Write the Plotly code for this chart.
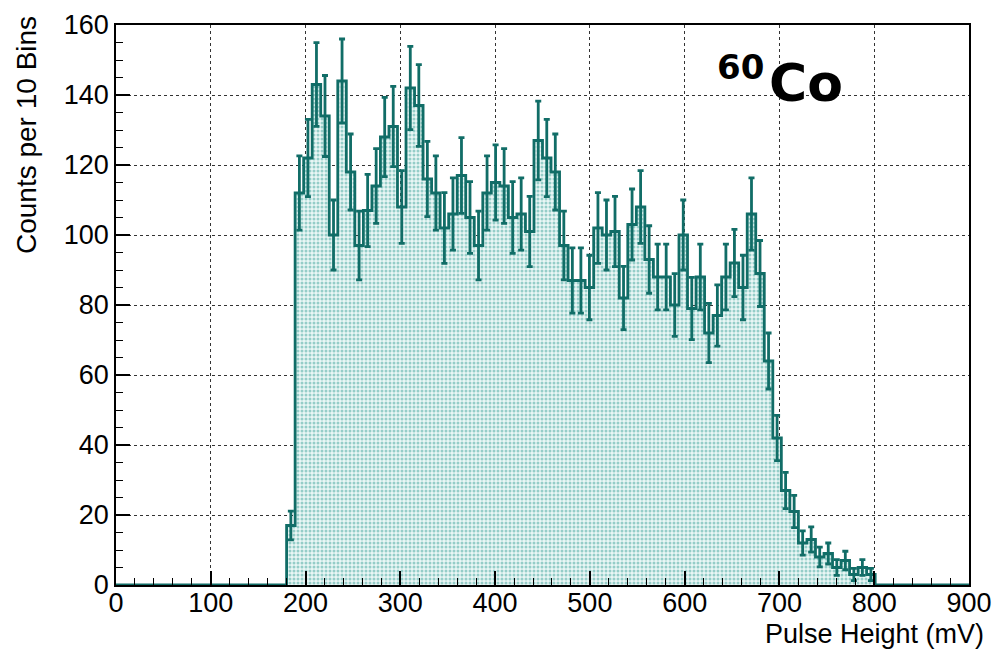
import numpy as np
import plotly.graph_objects as go

# Histogram definition (ROOT-style TH1: 100 bins from 0 to 900 mV)
x_min = 0
x_max = 900
n_bins = 100
first_filled_bin = 20  # bin starting at 180 mV

# Counts per bin, starting at 180 mV (9 mV bins)
counts = [17, 112, 122, 143, 134, 100, 144, 118, 97, 107,
          114, 128, 131, 108, 142, 137, 116, 112, 102, 106,
          117, 105, 97, 112, 115, 114, 105, 106, 101, 127,
          122, 118, 97, 87, 87, 85, 102, 100, 101, 82,
          103, 108, 93, 88, 88, 80, 100, 79, 88, 72,
          77, 88, 92, 85, 106, 89, 64, 42, 27, 21,
          12, 13, 8, 9, 5, 7, 3, 5, 3]

x_ticks = [0, 100, 200, 300, 400, 500, 600, 700, 800, 900]
y_ticks = [0, 20, 40, 60, 80, 100, 120, 140, 160]

x_title = "Pulse Height (mV)"
y_title = "Counts per 10 Bins"
isotope_mass = "60"
isotope_symbol = "Co"

# ---- build histogram arrays
full = [0] * first_filled_bin + counts
full = full + [0] * (n_bins - len(full))
edges = np.linspace(x_min, x_max, n_bins + 1)
centers = 0.5 * (edges[:-1] + edges[1:])
full = np.array(full, dtype=float)

line_col = "#116d67"

fig = go.Figure()

# filled step histogram
fig.add_trace(go.Scatter(
    x=edges, y=np.append(full, full[-1]),
    mode="lines", line=dict(shape="hv", color=line_col, width=2.8),
    fill="tozeroy",
    fillcolor="rgba(255,255,255,0)",
    fillpattern=dict(shape=".", fgcolor="#3fa39c", bgcolor="#eaf6f5",
                     size=4, solidity=0.45),
    hoverinfo="skip", showlegend=False,
))

# error bars (sqrt(N))
mask = full > 0
fig.add_trace(go.Scatter(
    x=centers[mask], y=full[mask], mode="markers",
    marker=dict(size=1, color=line_col),
    error_y=dict(type="data", array=np.sqrt(full[mask]), color=line_col,
                 thickness=2.8, width=3),
    showlegend=False,
))

font_main = "Liberation Sans, Arial, sans-serif"

axis_common = dict(
    ticks="inside", tickwidth=1.5, tickcolor="black",
    showline=True, linecolor="black", linewidth=1.6, mirror=True,
    showgrid=True, gridcolor="#333", griddash="dot", gridwidth=1.2,
    zeroline=False, tickfont=dict(size=27), automargin=False,
)

fig.update_layout(
    width=996, height=650,
    margin=dict(l=116, r=27, t=25, b=65, autoexpand=False),
    paper_bgcolor="white", plot_bgcolor="white",
    font=dict(family=font_main, size=27, color="black"),
    xaxis=dict(
        range=[x_min, x_max], tickvals=x_ticks, ticktext=[str(v) for v in x_ticks],
        ticklen=14, ticklabelstandoff=-7,
        minor=dict(dtick=20, ticks="inside", ticklen=7, tickwidth=1.2, tickcolor="black", showgrid=False),
        **axis_common,
    ),
    yaxis=dict(
        range=[0, 160], tickvals=y_ticks, ticktext=[str(v) for v in y_ticks],
        ticklen=14,
        minor=dict(dtick=5, ticks="inside", ticklen=7, tickwidth=1.2, tickcolor="black", showgrid=False),
        **axis_common,
    ),
    annotations=[
        dict(text=x_title, xref="paper", yref="paper", x=1.019, y=-0.0875,
             xanchor="right", yanchor="middle", showarrow=False,
             borderpad=0,
             font=dict(size=27, family=font_main)),
        dict(text=y_title, xref="paper", yref="paper", x=-0.1043, y=0.8036,
             xanchor="center", yanchor="middle", textangle=-90, showarrow=False,
             font=dict(size=28, family=font_main)),
        dict(text=isotope_mass, xref="x", yref="y", x=632, y=148,
             xanchor="left", yanchor="middle", showarrow=False,
             font=dict(size=34, family="DejaVu Sans, sans-serif", weight="bold")),
        dict(text=isotope_symbol, xref="x", yref="y", x=687, y=143.5,
             xanchor="left", yanchor="middle", showarrow=False,
             font=dict(size=52, family="DejaVu Sans, sans-serif", weight="bold")),
    ],
)

fig.write_html("out.html")
